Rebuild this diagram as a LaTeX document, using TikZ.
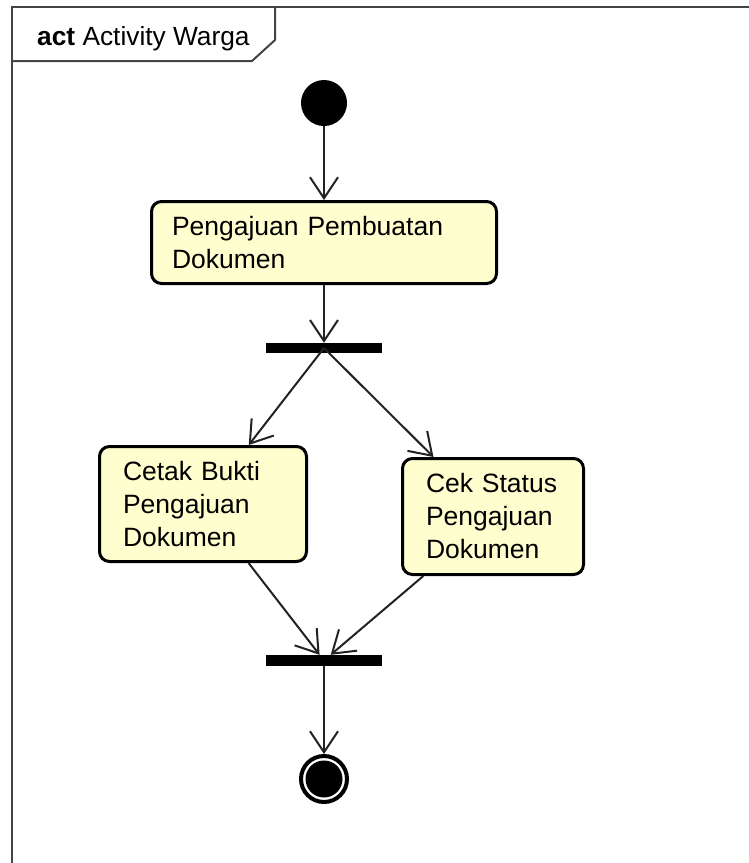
\documentclass[tikz,border=0pt]{standalone}
\usepackage{fontspec}
\setmainfont{Liberation Sans}
\usetikzlibrary{arrows.meta}
\definecolor{actfill}{HTML}{FEFECE}
\definecolor{framec}{HTML}{444444}
\definecolor{linec}{HTML}{222222}
\begin{document}
\begin{tikzpicture}[x=1pt,y=-1pt,
  action/.style={draw=black, line width=3pt, fill=actfill, rounded corners=10pt,
    align=left, anchor=center, font=\fontsize{26.5}{33}\selectfont, inner ysep=0pt},
  bar/.style={fill=black, draw=none, inner sep=0pt, rectangle},
  flow/.style={draw=linec, line width=2pt, -{Straight Barb[length=21pt,width=28pt]}},
  framestyle/.style={draw=framec, line width=2pt},
]
\useasboundingbox (0,0) rectangle (748,863);
% frame
\draw[framestyle] (770,7) -- (12,7) -- (12,880);
\draw[framestyle] (12,61) -- (252,61) -- (275,40) -- (275,7);
\node[anchor=base west, inner sep=0pt, font=\fontsize{26.3}{30}\selectfont] (title) at (37,45) {\textbf{act} Activity Warga};

% nodes
\node[circle, fill=black, draw=none, minimum size=46pt, inner sep=0pt] (init) at (324,103) {};
\node[action, text width=304pt, inner xsep=20.5pt, minimum height=82pt] (a1) at (324,242.5) {Pengajuan Pembuatan\\Dokumen};
\node[bar, minimum width=116pt, minimum height=10pt] (fork) at (324,348) {};
\node[action, text width=160pt, inner xsep=23.5pt, minimum height=115pt] (a2) at (203,504) {Cetak Bukti\\Pengajuan\\Dokumen};
\node[action, text width=134pt, inner xsep=23.5pt, minimum height=116pt] (a3) at (493,516.5) {Cek Status\\Pengajuan\\Dokumen};
\node[bar, minimum width=116pt, minimum height=11pt] (join) at (324,660.5) {};
\node[circle, draw=black, line width=4pt, fill=white, minimum size=46pt, inner sep=0pt] (final) at (324,779) {};
\fill[black] (final.center) circle (18.5pt);

% connectors
\draw[flow] (init) -- (a1);
\draw[flow] (a1) -- (fork);
\draw[flow] (fork.center) -- (a2);
\draw[flow] (fork.center) -- (a3);
\draw[flow] (a2) -- (join);
\draw[flow] (a3) -- (join);
\draw[flow] (join) -- (final);
\end{tikzpicture}
\end{document}
